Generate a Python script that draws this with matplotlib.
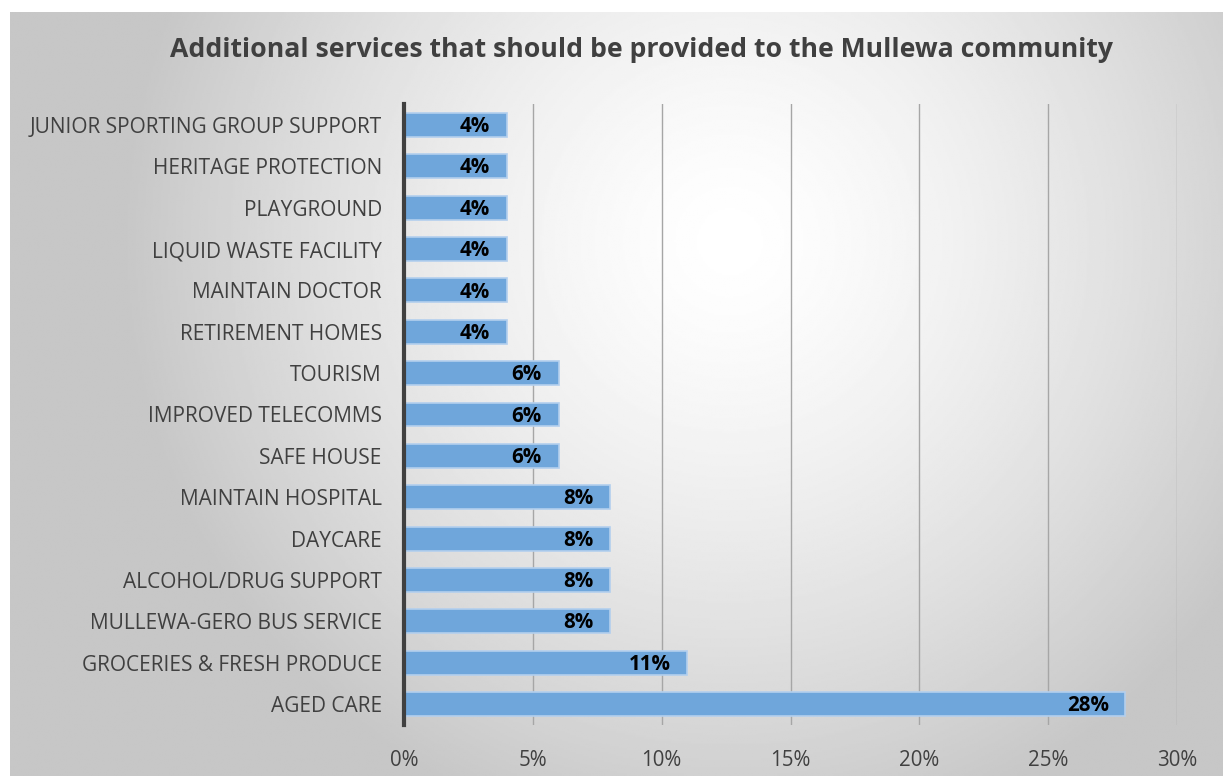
import numpy as np
import matplotlib
matplotlib.use("Agg")
import matplotlib.pyplot as plt
from matplotlib.ticker import FuncFormatter

services = ["AGED CARE", "GROCERIES & FRESH PRODUCE", "MULLEWA-GERO BUS SERVICE",
            "ALCOHOL/DRUG SUPPORT", "DAYCARE", "MAINTAIN HOSPITAL", "SAFE HOUSE",
            "IMPROVED TELECOMMS", "TOURISM", "RETIREMENT HOMES", "MAINTAIN DOCTOR",
            "LIQUID WASTE FACILITY", "PLAYGROUND", "HERITAGE PROTECTION",
            "JUNIOR SPORTING GROUP SUPPORT"]
percent = [28, 11, 8, 8, 8, 8, 6, 6, 6, 4, 4, 4, 4, 4, 4]
xticks = [0, 5, 10, 15, 20, 25, 30]

plt.rcParams['font.family'] = ['Open Sans', 'DejaVu Sans']

fig = plt.figure(figsize=(12.23, 7.76), dpi=100)

# radial gradient backdrop
bg = fig.add_axes([10 / 1223, 0, 1 - 10 / 1223, 1 - 12 / 776], zorder=0)
yy, xx = np.mgrid[0:1:400j, 0:1.6:640j]
r = np.sqrt((xx - 0.95) ** 2 + (yy - 0.3) ** 2)
shade = np.clip(1.0 - 0.28 * (r / 0.95) ** 1.4, 0.78, 1.0)
bg.imshow(shade, cmap="gray", vmin=0, vmax=1, aspect="auto",
          extent=[0, 1, 0, 1], origin="upper")
bg.set_xlim(0, 1)
bg.set_ylim(0, 1)
bg.axis("off")

ax = fig.add_axes([404 / 1223, 1 - 724.7 / 776, (1177 - 404) / 1223, (724.7 - 104.3) / 776],
                  zorder=1)
ax.patch.set_alpha(0)

y = np.arange(len(services))
ax.barh(y, percent, height=0.58, color="#6fa6db", edgecolor="#b3cfee",
        linewidth=1.2, zorder=3)
for yi, v in zip(y, percent):
    ax.text(v - 0.65, yi - 0.04, f"{v}%", ha="right", va="center", fontsize=14.8,
            fontweight="bold", color="black", zorder=4)

ax.set_xlim(0, 30)
ax.set_ylim(-0.5, len(services) - 0.5)
ax.set_xticks(xticks)
ax.xaxis.set_major_formatter(FuncFormatter(lambda v, p: f"{v:.0f}%"))
ax.set_yticks(y)
ax.set_yticklabels(services)
ax.tick_params(axis="x", length=0, pad=18, labelsize=14.8, labelcolor="#404040")
ax.tick_params(axis="y", length=0, pad=16, labelsize=15, labelcolor="#404040")
ax.grid(axis="x", color="#a6a6a6", linewidth=1, zorder=1)
for s in ["top", "right", "bottom"]:
    ax.spines[s].set_visible(False)
ax.spines["left"].set_color("#404040")
ax.spines["left"].set_linewidth(3)
ax.spines["left"].set_zorder(5)

fig.text(641 / 1223, 1 - 50 / 776, "Additional services that should be provided to the Mullewa community",
         ha="center", va="center", fontsize=19.2, fontweight="bold", color="#404040")

fig.savefig("out.png", dpi=100)
